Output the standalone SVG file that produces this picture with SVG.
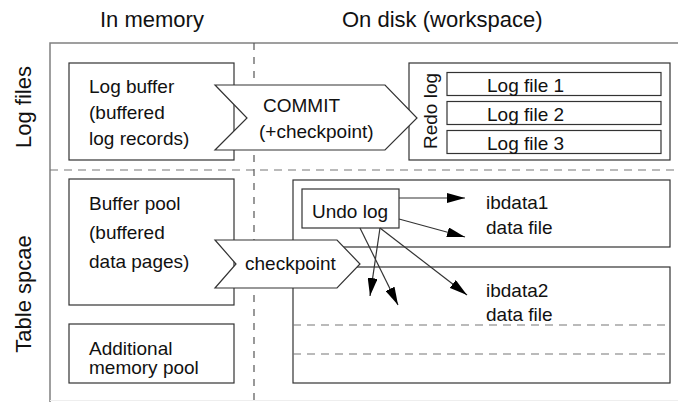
<svg xmlns="http://www.w3.org/2000/svg" width="678" height="402" viewBox="0 0 678 402">
  <defs>
    <marker id="head" viewBox="0 0 18 10" refX="18" refY="5" markerWidth="18" markerHeight="10" markerUnits="userSpaceOnUse" orient="auto">
      <path d="M0,0 L18,5 L0,10 Z" fill="#000"/>
    </marker>
    <style>
      text { font-family: "Liberation Sans", Arial, sans-serif; fill: #111; }
      .hd { font-size: 22px; }
      .tx { font-size: 19px; }
      .frame { fill: none; stroke: #808080; stroke-width: 1.5; }
      .dash { fill: none; stroke: #777; stroke-width: 1.2; stroke-dasharray: 8 6; }
      .vdash { fill: none; stroke: #555; stroke-width: 1.2; stroke-dasharray: 7 7; }
      .box { fill: #fff; stroke: #333; stroke-width: 1.2; }
      .file { fill: none; stroke: #333; stroke-width: 1.2; }
      .flow { fill: #fff; stroke: #333; stroke-width: 1.2; }
      .conn { fill: none; stroke: #333; stroke-width: 1.2; marker-end: url(#head); }
    </style>
  </defs>

  <!-- column headings -->
  <text class="hd" x="100" y="27">In memory</text>
  <text class="hd" x="342" y="27">On disk (workspace)</text>

  <!-- row headings -->
  <text class="hd" transform="translate(31,107) rotate(-90)" text-anchor="middle">Log files</text>
  <text class="hd" transform="translate(31,294) rotate(-90)" text-anchor="middle">Table spcae</text>

  <!-- frame and separators -->
  <path class="frame" d="M678,43 H50 V402"/>
  <line x1="50" y1="400.5" x2="678" y2="400.5" stroke="#eee" stroke-width="1"/>
  <line class="dash" x1="50" y1="170" x2="678" y2="170"/>
  <line class="vdash" x1="254" y1="43" x2="254" y2="402"/>

  <!-- data file areas -->
  <g id="ibdata1">
    <rect class="box" x="293" y="180" width="377" height="67"/>
    <text class="tx" x="486" y="209">ibdata1</text>
    <text class="tx" x="486" y="234">data file</text>
  </g>
  <g id="ibdata2">
    <rect class="box" x="293" y="267" width="377" height="116"/>
    <line class="dash" x1="293" y1="325" x2="670" y2="325"/>
    <line class="dash" x1="293" y1="354" x2="670" y2="354"/>
    <text class="tx" x="486" y="297">ibdata2</text>
    <text class="tx" x="486" y="321">data file</text>
  </g>

  <!-- memory structures -->
  <g id="log-buffer">
    <rect class="box" x="69" y="63" width="165" height="97"/>
    <text class="tx" x="89" y="93">Log buffer</text>
    <text class="tx" x="89" y="119">(buffered</text>
    <text class="tx" x="89" y="145">log records)</text>
  </g>
  <g id="buffer-pool">
    <rect class="box" x="69" y="179" width="165" height="126"/>
    <text class="tx" x="89" y="210">Buffer pool</text>
    <text class="tx" x="89" y="239">(buffered</text>
    <text class="tx" x="89" y="268">data pages)</text>
  </g>
  <g id="additional-pool">
    <rect class="box" x="69" y="324" width="165" height="59"/>
    <text class="tx" x="89" y="355">Additional</text>
    <text class="tx" x="89" y="374">memory pool</text>
  </g>

  <!-- redo log -->
  <g id="redo-log">
    <rect class="box" x="409" y="63" width="261" height="97"/>
    <text class="tx" transform="translate(437,111) rotate(-90)" text-anchor="middle">Redo log</text>
    <rect class="file" x="447" y="72.5" width="214" height="23"/>
    <rect class="file" x="447" y="101.5" width="214" height="23"/>
    <rect class="file" x="447" y="130.5" width="214" height="23"/>
    <text class="tx" x="487" y="92">Log file 1</text>
    <text class="tx" x="487" y="121">Log file 2</text>
    <text class="tx" x="487" y="150">Log file 3</text>
  </g>

  <!-- flows between memory and disk -->
  <g id="commit">
    <polygon class="flow" points="215,85 385,85 417,118 385,150 215,150 247,118"/>
    <text class="tx" x="263" y="112">COMMIT</text>
    <text class="tx" x="259" y="138">(+checkpoint)</text>
  </g>
  <g id="checkpoint">
    <polygon class="flow" points="215,240 337,240 360,264 337,288 215,288 236,264"/>
    <text class="tx" x="245" y="270">checkpoint</text>
  </g>

  <!-- undo log -->
  <g id="undo-log">
    <rect class="box" x="302" y="189" width="97" height="39" stroke="#555"/>
    <text class="tx" x="312" y="218">Undo log</text>
  </g>

  <!-- connectors -->
  <g id="connectors">
    <line class="conn" x1="399" y1="198" x2="465" y2="198"/>
    <line class="conn" x1="399" y1="219" x2="465" y2="237"/>
    <line class="conn" x1="380" y1="228" x2="467" y2="295"/>
    <line class="conn" x1="360" y1="228" x2="398" y2="305"/>
    <line class="conn" x1="380" y1="228" x2="370" y2="296"/>
  </g>
</svg>
